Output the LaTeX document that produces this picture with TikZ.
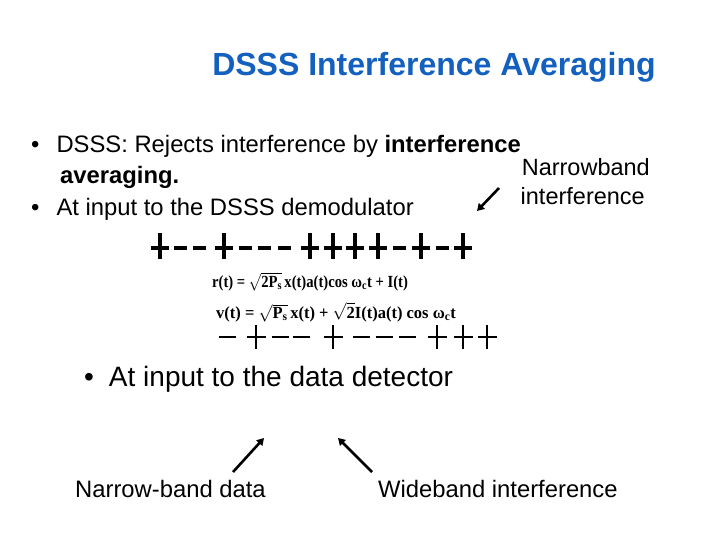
\documentclass[tikz,border=0pt]{standalone}
\usepackage{fontspec}
\setmainfont{Liberation Sans}
\newfontfamily\tnr{Liberation Serif}
\usetikzlibrary{arrows.meta}
\definecolor{titleblue}{RGB}{20,96,190}
\begin{document}
\begin{tikzpicture}[x=1pt,y=-1pt,
  txt/.style={anchor=base west,inner sep=0pt,font=\fontsize{23.8}{28}\selectfont},
  lbl/.style={anchor=base west,inner sep=0pt,font=\fontsize{23.8}{28}\selectfont},
  eq/.style={anchor=base west,inner sep=0pt,font=\tnr\bfseries\fontsize{17}{20}\selectfont},
  chipA/.style={line width=3.2pt},
  chipB/.style={line width=2.8pt},
  arr/.style={line width=2.6pt,-{Triangle[length=7pt,width=8pt]}}]
\useasboundingbox (0,0) rectangle (720,540);
\node[anchor=base,inner sep=0pt,font=\bfseries\fontsize{32}{36}\selectfont,text=titleblue] (title) at (434,76) {DSSS Interference Averaging};
\node[txt] (b1) at (31,153) {•\hspace{17pt}DSSS: Rejects interference by \textbf{interference}};
\node[txt] (b1b) at (60,184) {\textbf{averaging.}};
\node[txt] (b2) at (31,215) {•\hspace{17pt}At input to the DSSS demodulator};
\node[anchor=base east,inner sep=0pt,font=\fontsize{23.5}{28}\selectfont] (nb1) at (650,176) {Narrowband};
\node[anchor=base east,inner sep=0pt,font=\fontsize{23.5}{28}\selectfont] (nb2) at (645,205) {interference};
\coordinate (nbs) at (499,188);
\coordinate (nbe) at (477,211);
\draw[arr] (nbs) -- (nbe);
% top row of chips
\foreach \s/\x in {+/160,-/180,-/199,+/224,-/245,-/264,-/284,+/310,+/333,+/355,+/378,-/399,+/421,-/442,+/463}{
  \if\s+
    \draw[chipA] (\x-9,248) -- (\x+9,248) (\x,233) -- (\x,259);
  \else
    \draw[chipA] (\x-6.5,248) -- (\x+6.5,248);
  \fi
}
\node[eq] (r) at (212,287) {\scalebox{0.86}[1]{r(t) = $\sqrt{\hbox{\tnr\bfseries 2P\textsubscript{s}}}\,$x(t)a(t)cos ω\textsubscript{c}t + I(t)}};
\node[eq] (v) at (216,318) {\scalebox{0.97}[1]{v(t) = $\sqrt{\hbox{\tnr\bfseries P\textsubscript{s}}}\,$x(t) + $\sqrt{\hbox{\tnr\bfseries 2}}$I(t)a(t) cos ω\textsubscript{c}t}};
% bottom row of chips
\foreach \s/\x in {-/227,+/256,-/280,-/301,+/333,-/361,-/384,-/407,+/437,+/463,+/487}{
  \if\s+
    \draw[chipB] (\x-9.5,337) -- (\x+9.5,337) (\x,325) -- (\x,349);
  \else
    \draw[chipB] (\x-8.5,337) -- (\x+8.5,337);
  \fi
}
\node[anchor=base west,inner sep=0pt,font=\fontsize{28}{32}\selectfont] (b3) at (84,386) {•\hspace{15pt}At input to the data detector};
\node[lbl] (l1) at (75,497) {Narrow-band data};
\node[lbl] (l2) at (378,497) {Wideband interference};
\coordinate (a1s) at (233,472);
\coordinate (a1e) at (264,438);
\coordinate (a2s) at (372,472);
\coordinate (a2e) at (338,438);
\draw[arr] (a1s) -- (a1e);
\draw[arr] (a2s) -- (a2e);
\end{tikzpicture}
\end{document}
